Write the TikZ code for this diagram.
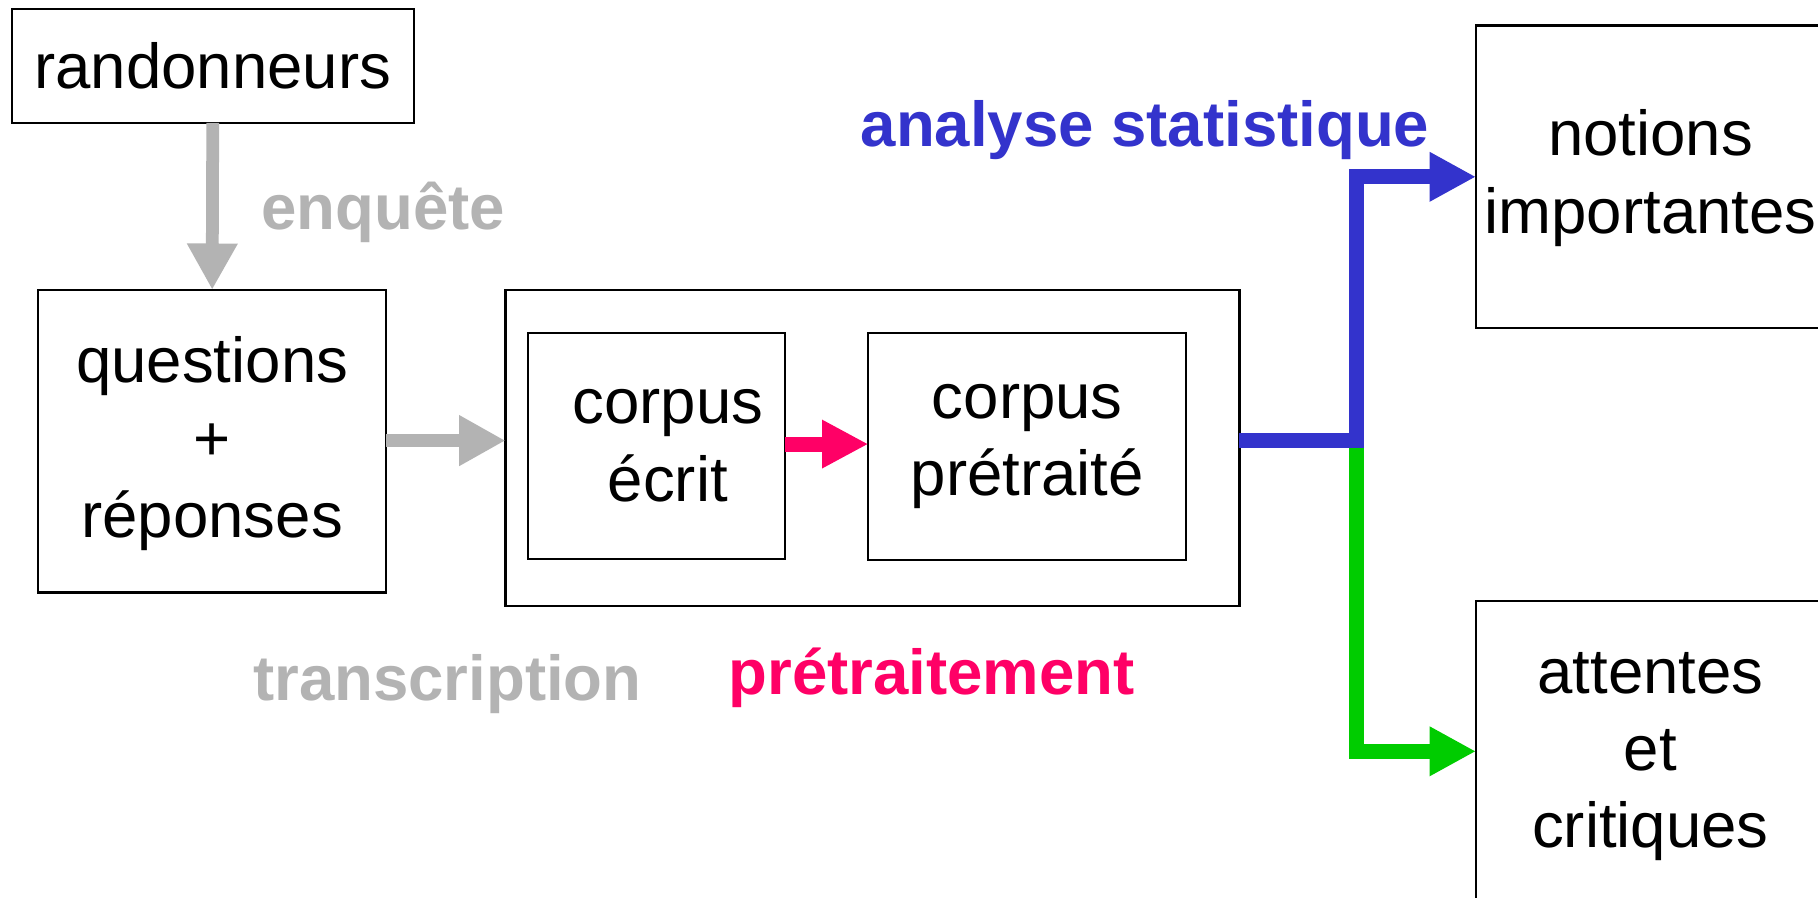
\documentclass[tikz,border=0pt]{standalone}
\usepackage{fontspec}
\setmainfont{Liberation Sans}
\usetikzlibrary{arrows.meta}
\definecolor{cgray}{HTML}{B3B3B3}
\definecolor{cpink}{HTML}{FF0066}
\definecolor{cblue}{HTML}{3333CC}
\definecolor{cgreen}{HTML}{00CC00}
\begin{document}
\begin{tikzpicture}[x=0.5pt,y=-0.5pt,
  box/.style={draw=black, line width=0.9pt, inner sep=0pt, outer sep=0pt,
    font=\fontsize{27.4}{33.3}\selectfont, align=center},
  lbl/.style={font=\fontsize{27.4}{33}\selectfont\bfseries, inner sep=0pt, anchor=base west},
  grayarrow/.style={draw=cgray, line width=5.5pt, -{Triangle[length=20pt,width=20.5pt]}},
  pinkarrow/.style={draw=cpink, line width=6.5pt, -{Triangle[length=20pt,width=19.5pt]}},
  bluearrow/.style={draw=cblue, line width=6.5pt, line join=miter, -{Triangle[length=20pt,width=20pt]}},
  greenarrow/.style={draw=cgreen, line width=6.5pt, line join=miter, -{Triangle[length=20pt,width=20pt]}}]
\useasboundingbox (0,0) rectangle (1568,774);
\clip (0,0) rectangle (1568,774);
\fill[white] (0,0) rectangle (1568,774);

\node[box, minimum width=173.5pt, minimum height=49pt] (rand) at (183.5,57) {randonneurs};
\node[box, minimum width=150pt, minimum height=130.5pt] (qr) at (183,380.5) {\rule{0pt}{22pt}questions\\+\\réponses};
\node[box, minimum width=316.5pt, minimum height=136.5pt] (big) at (752.5,386.5) {};
\node[box, minimum width=111pt, minimum height=97.5pt] (ce) at (566,384.5) {\hspace*{10pt}corpus\\\hspace*{10pt}écrit};
\node[box, minimum width=137pt, minimum height=98pt] (cp) at (886,385) {corpus\\prétraité};
\node[box, minimum width=150.5pt, minimum height=130.5pt] (ni) at (1423.5,152.5) {\rule{0pt}{21pt}notions\\importantes};
\node[box, minimum width=150.5pt, minimum height=130pt] (ac) at (1423.5,648) {\rule{0pt}{22pt}attentes\\et\\critiques};

\coordinate (J) at (1170,380);

\draw[grayarrow] (rand.south) -- (qr.north);
\draw[grayarrow] (qr.east |- J) -- (big.west |- J);
\draw[pinkarrow] (ce.east |- 0,383) -- (cp.west |- 0,383);
\draw[greenarrow] (J) |- (ac.west);
\draw[bluearrow] (J -| big.east) -- (J) |- (ni.west);

\node[lbl, text=cgray] (enq) at (225,198) {enquête};
\node[lbl, text=cgray] (tra) at (218,604) {transcription};
\node[lbl, text=cpink] (pre) at (628,599) {prétraitement};
\node[lbl, text=cblue] (ana) at (742,126) {analyse statistique};
\end{tikzpicture}
\end{document}
